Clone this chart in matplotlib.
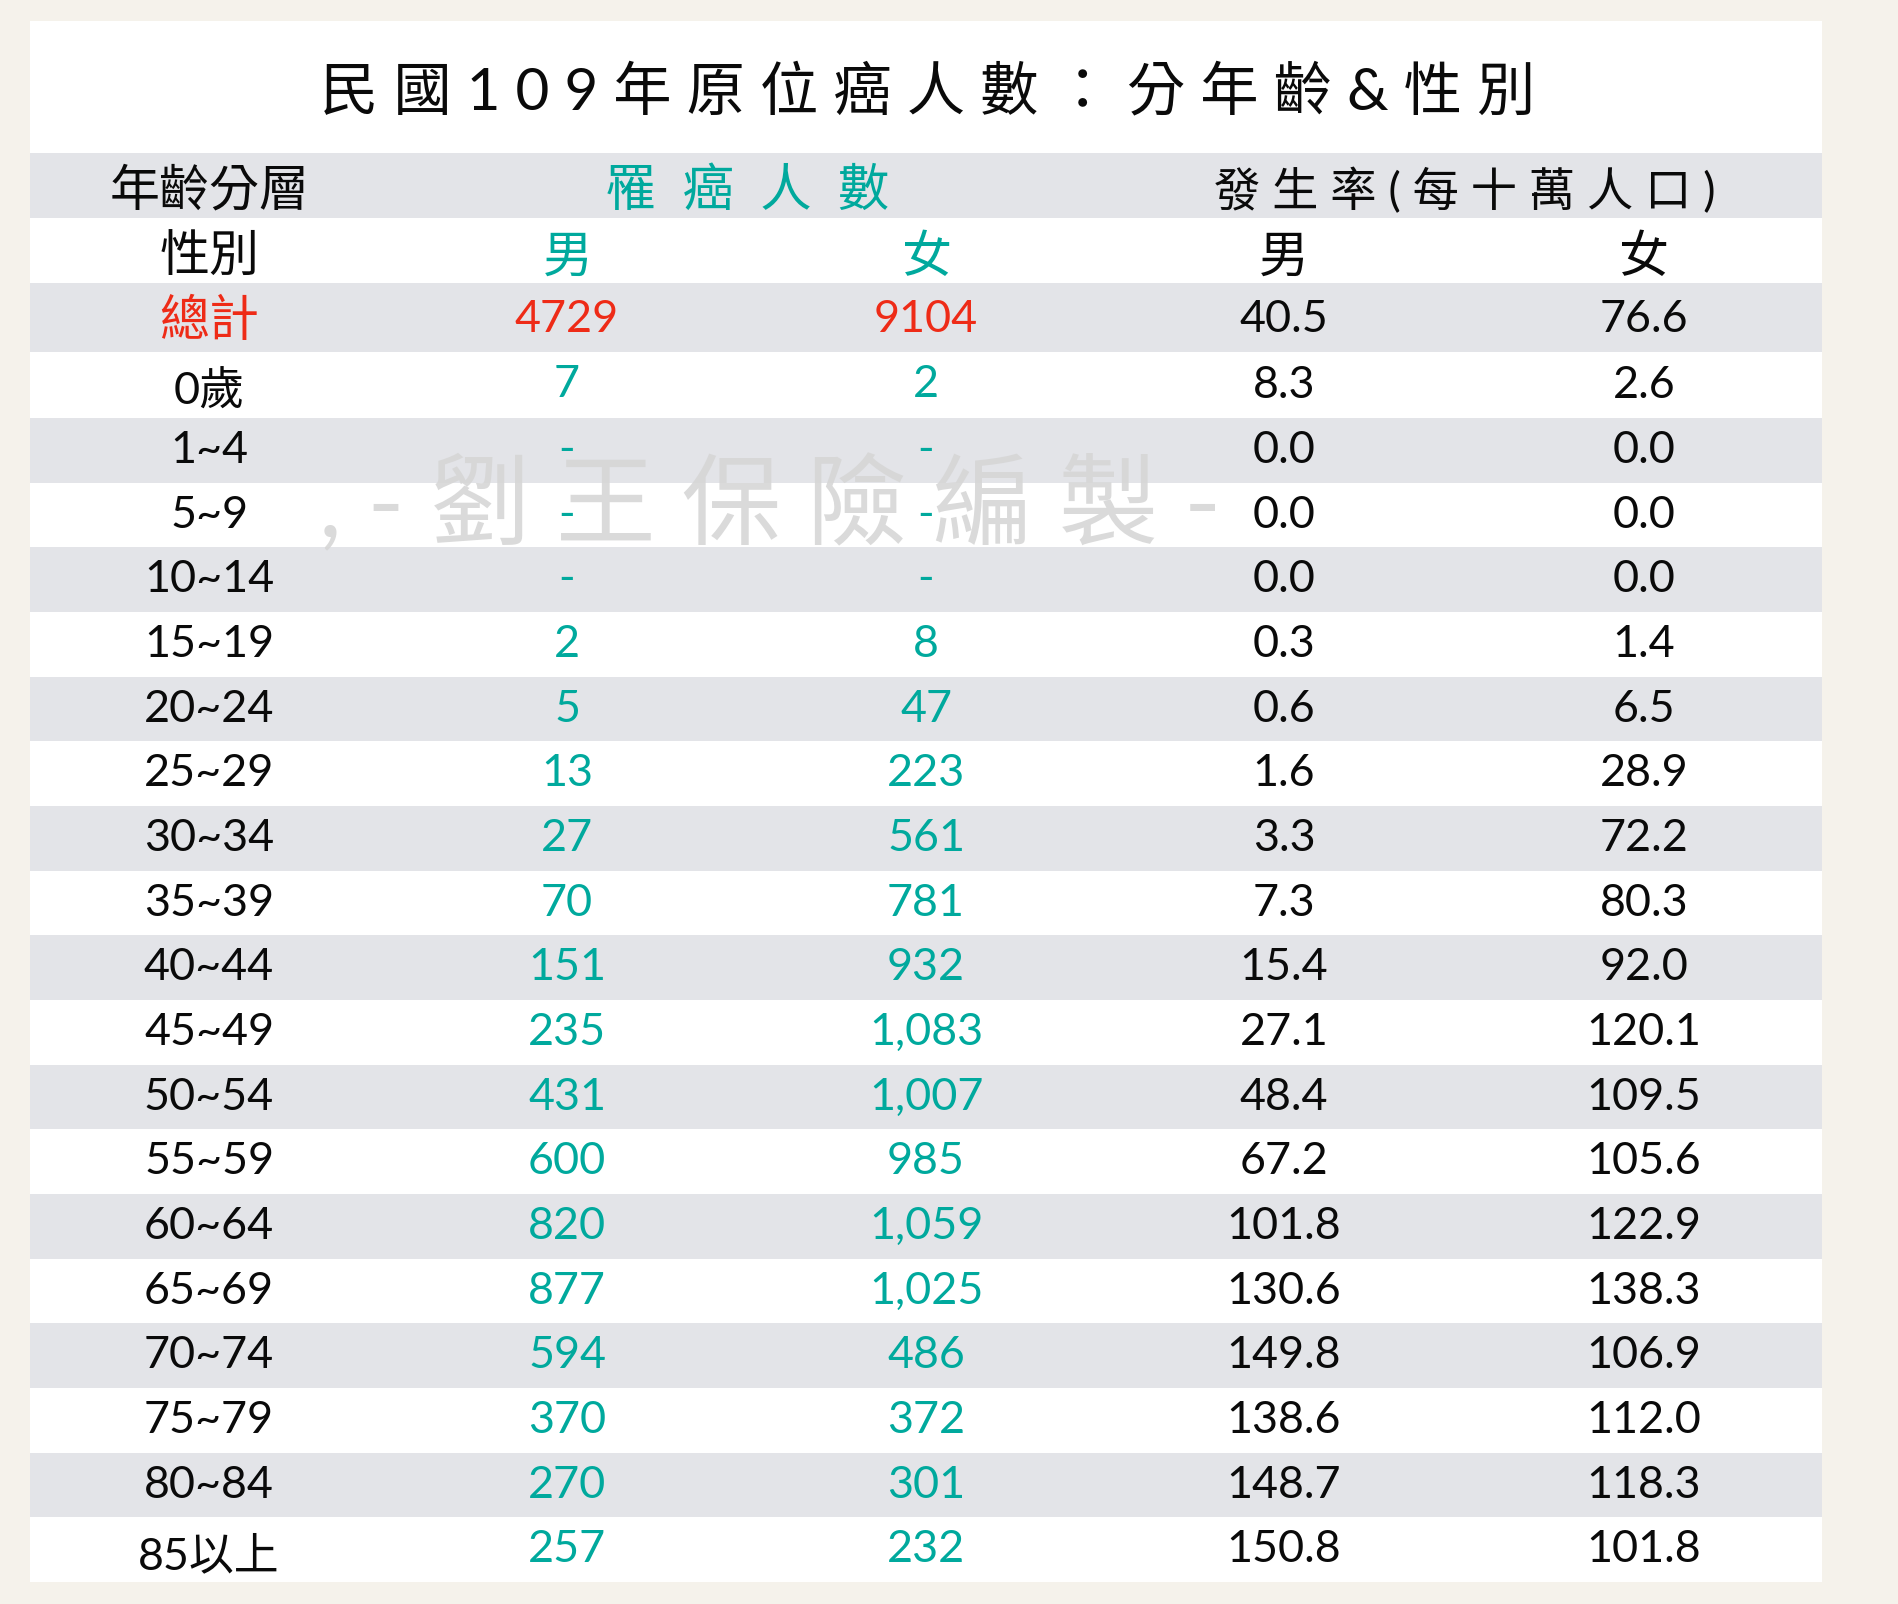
import numpy as np
import matplotlib
matplotlib.use("Agg")
import matplotlib.pyplot as plt

# ---- data ----
title = "民 國 1 0 9 年 原 位 癌 人 數 ： 分 年 齡 & 性 別"
watermark = ", - 劉 王 保 險 編 製 -"
header_age = "年齡分層"
header_sex = "性別"
header_cases = "罹  癌  人  數"
header_rate = "發 生 率 ( 每 十 萬 人 口 )"
header_male = "男"
header_female = "女"
total_label = "總計"
total_male = "4729"
total_female = "9104"
total_rate_male = "40.5"
total_rate_female = "76.6"
ages = ["0歲", "1~4", "5~9", "10~14", "15~19", "20~24", "25~29", "30~34", "35~39",
        "40~44", "45~49", "50~54", "55~59", "60~64", "65~69", "70~74", "75~79",
        "80~84", "85以上"]
cases_male = ["7", "-", "-", "-", "2", "5", "13", "27", "70", "151", "235", "431",
              "600", "820", "877", "594", "370", "270", "257"]
cases_female = ["2", "-", "-", "-", "8", "47", "223", "561", "781", "932", "1,083", "1,007",
                "985", "1,059", "1,025", "486", "372", "301", "232"]
rate_male = ["8.3", "0.0", "0.0", "0.0", "0.3", "0.6", "1.6", "3.3", "7.3", "15.4", "27.1",
             "48.4", "67.2", "101.8", "130.6", "149.8", "138.6", "148.7", "150.8"]
rate_female = ["2.6", "0.0", "0.0", "0.0", "1.4", "6.5", "28.9", "72.2", "80.3", "92.0", "120.1",
               "109.5", "105.6", "122.9", "138.3", "106.9", "112.0", "118.3", "101.8"]

# ---- style / layout ----
BG, BAND, TEAL, RED, BLACK = "#F5F2EB", "#E3E4E8", "#00A99D", "#EE2B17", "#0A0A0A"
FONT = ["Lato", "Noto Sans CJK TC", "DejaVu Sans"]
plt.rcParams["font.family"] = FONT
W, H = 1898, 1604
fig = plt.figure(figsize=(W / 100, H / 100), dpi=100, facecolor=BG)
ax = fig.add_axes([0, 0, 1, 1])
ax.set_xlim(0, W)
ax.set_ylim(H, 0)
ax.axis("off")

CARD_L, CARD_R, CARD_T, CARD_B = 30, 1822, 21, 1582
ax.add_patch(plt.Rectangle((CARD_L, CARD_T), CARD_R - CARD_L, CARD_B - CARD_T, fc="white", ec="none", zorder=1))

head_edges = [153, 218, 283, 352]
data_edges = np.concatenate([[352], np.linspace(418, CARD_B, 19)])
edges = np.concatenate([head_edges[:-1], data_edges])
for i in range(len(edges) - 1):
    if i % 2 == 0:
        ax.add_patch(plt.Rectangle((CARD_L, edges[i]), CARD_R - CARD_L, edges[i + 1] - edges[i],
                                   fc=BAND, ec="none", zorder=2))

cols = [209, 567, 926, 1284, 1644]
FS = 32.3


def put(x, y, s, color=BLACK, fs=FS, **kw):
    ax.text(x, y, s, color=color, fontsize=fs, ha="center", va="baseline", zorder=5, **kw)


ax.text(928, 109, title, color=BLACK, fontsize=42, ha="center", va="baseline", zorder=5)
ax.text(770, 537, watermark, color="#D6D6D6", fontsize=72, ha="center", va="baseline", zorder=3, alpha=0.9)

put(cols[0] + 1, 206, header_age, fs=36)
put(747, 206, header_cases, TEAL, fs=37)
put(1465, 206, header_rate, fs=33.3)
put(cols[0] + 1, 272, header_sex, fs=36)
put(cols[1] + 1, 272, header_male, TEAL, fs=36)
put(cols[2] + 1, 272, header_female, TEAL, fs=36)
put(cols[3], 272, header_male, fs=36)
put(cols[4], 272, header_female, fs=36)

put(cols[0], 336, total_label, RED, fs=36)
put(cols[1], 332, total_male, RED)
put(cols[2], 332, total_female, RED)
put(cols[3], 332, total_rate_male)
put(cols[4], 332, total_rate_female)

for i, age in enumerate(ages):
    base = data_edges[i] + 0.695 * (data_edges[i + 1] - data_edges[i])
    off = 7 if age in ("0歲", "85以上") else 0
    off2 = -1 if i == 0 else 0
    put(cols[0], base + off, age)
    put(cols[1], base + off2, cases_male[i], TEAL)
    put(cols[2], base + off2, cases_female[i], TEAL)
    put(cols[3], base, rate_male[i])
    put(cols[4], base, rate_female[i])

fig.savefig("out.png", dpi=100, facecolor=BG)
